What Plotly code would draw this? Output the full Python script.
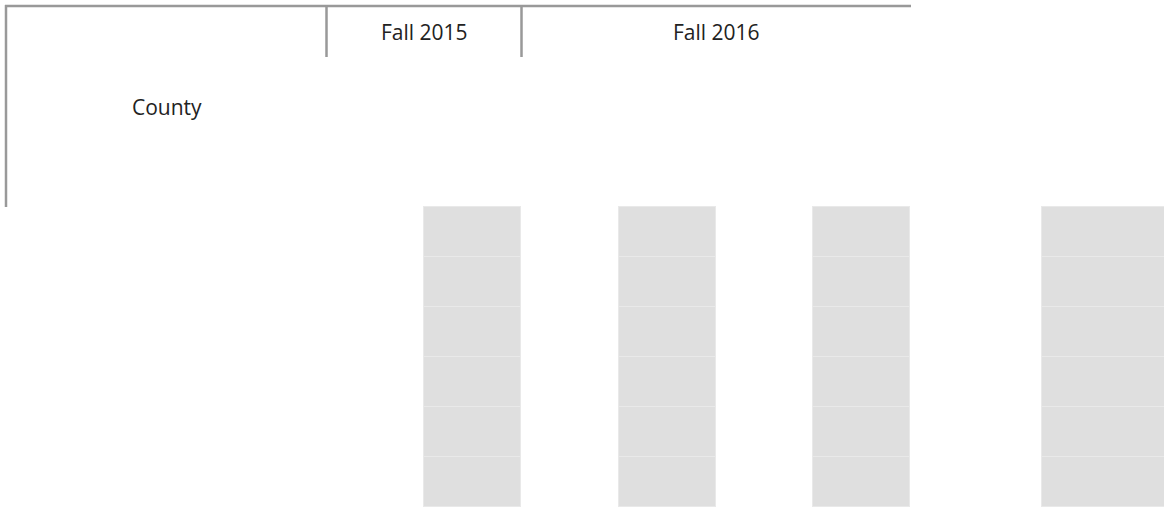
import plotly.graph_objects as go

# ---- data ----
header_labels = ["County", "Fall 2015", "Fall 2016"]
cell_columns = ["col1", "col2", "col3", "col4"]
row1 = [1, 1, 1, 1]
row2 = [1, 1, 1, 1]
row3 = [1, 1, 1, 1]
row4 = [1, 1, 1, 1]
row5 = [1, 1, 1, 1]
row6 = [1, 1, 1, 1]
rows = [row1, row2, row3, row4, row5, row6]

# ---- layout (pixel-based positions) ----
W, H = 1164, 510
col_left = [424, 619, 813, 1042]
col_width = [97, 97, 97, 130]
col_center = [l + w / 2 for l, w in zip(col_left, col_width)]
ROW_TOP_PX = 207
ROW_PX = 50

fig = go.Figure()
for r in rows:
    fig.add_trace(go.Bar(
        x=col_center, y=r, width=col_width,
        marker=dict(color="#dfdfdf", line=dict(color="#e9e9e9", width=1)),
        hoverinfo="skip", showlegend=False,
    ))

def py(px):
    return 1 - px / H

LINE = dict(color="#999999", width=2.5)
shapes = [
    dict(type="line", xref="x", yref="paper", x0=5, x1=911, y0=py(6), y1=py(6), line=LINE),
    dict(type="line", xref="x", yref="paper", x0=6, x1=6, y0=py(5), y1=py(207), line=LINE),
    dict(type="line", xref="x", yref="paper", x0=326.5, x1=326.5, y0=py(5), y1=py(57), line=LINE),
    dict(type="line", xref="x", yref="paper", x0=521.5, x1=521.5, y0=py(5), y1=py(57), line=LINE),
]

text_pos = [(167, 107), (424, 32), (716, 32)]
annotations = [
    dict(text=t, x=x, y=py(y), xref="x", yref="paper", showarrow=False,
         xanchor="center", yanchor="middle",
         font=dict(family="Open Sans", size=21, color="#222222"))
    for t, (x, y) in zip(header_labels, text_pos)
]

fig.update_layout(
    width=W, height=H,
    margin=dict(l=0, r=0, t=0, b=0),
    paper_bgcolor="white", plot_bgcolor="white",
    barmode="stack", bargap=0,
    xaxis=dict(range=[0, W], visible=False, fixedrange=True),
    yaxis=dict(range=[(H - ROW_TOP_PX) / ROW_PX, -ROW_TOP_PX / ROW_PX],
               visible=False, fixedrange=True),
    shapes=shapes, annotations=annotations,
)

fig.write_html("out.html", config={"displayModeBar": False},
               post_script="document.body.style.margin='0px';document.body.style.overflow='hidden';")
